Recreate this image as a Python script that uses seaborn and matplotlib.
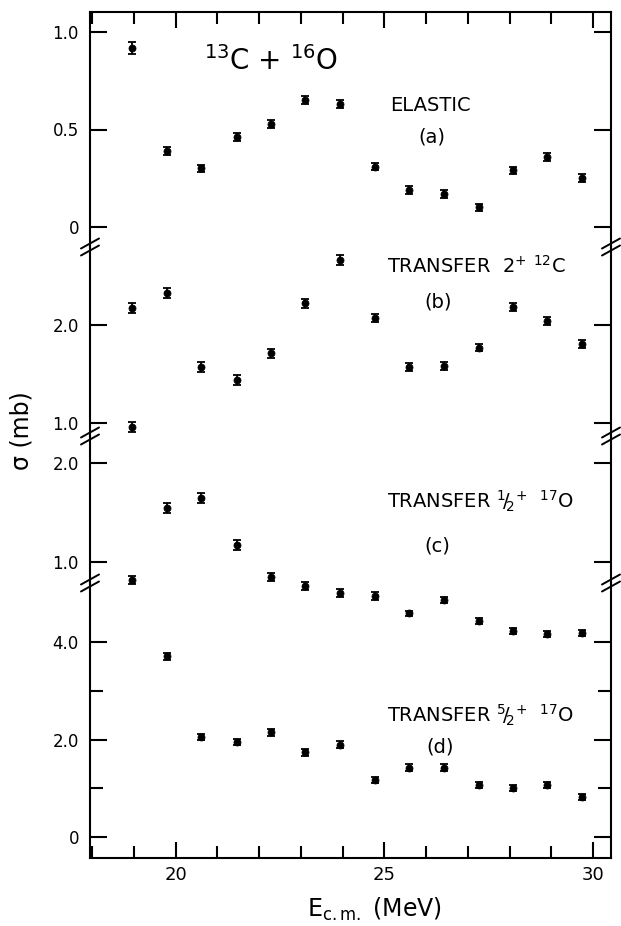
import matplotlib
matplotlib.use("Agg")
import matplotlib.pyplot as plt
import seaborn as sns
import pandas as pd
from matplotlib.ticker import MultipleLocator, FixedLocator
from matplotlib.lines import Line2D

# ---------------- data ----------------
energy = [18.95, 19.80, 20.62, 21.47, 22.28, 23.10, 23.93,
          24.77, 25.60, 26.42, 27.27, 28.08, 28.90, 29.73]

elastic = [0.92, 0.39, 0.30, 0.46, 0.53, 0.65, 0.63,
           0.31, 0.19, 0.17, 0.10, 0.29, 0.36, 0.25]
elastic_err = [0.03, 0.02, 0.02, 0.02, 0.02, 0.02, 0.02,
               0.02, 0.02, 0.02, 0.02, 0.02, 0.02, 0.02]

transfer_2p = [2.17, 2.33, 1.57, 1.44, 1.71, 2.22, 2.66,
               2.07, 1.57, 1.58, 1.77, 2.18, 2.04, 1.81]
transfer_2p_err = [0.05, 0.05, 0.05, 0.05, 0.05, 0.05, 0.05,
                   0.04, 0.04, 0.04, 0.04, 0.04, 0.04, 0.04]

transfer_half = [2.36, 1.55, 1.65, 1.17, 0.85, 0.76, 0.69,
                 0.66, 0.48, 0.62, 0.40, 0.30, 0.27, 0.28]
transfer_half_err = [0.05, 0.05, 0.05, 0.05, 0.04, 0.04, 0.04,
                     0.04, 0.03, 0.03, 0.03, 0.03, 0.03, 0.03]

transfer_5half = [5.27, 3.71, 2.05, 1.95, 2.15, 1.74, 1.89,
                  1.17, 1.42, 1.42, 1.07, 1.01, 1.07, 0.82]
transfer_5half_err = [0.09, 0.07, 0.07, 0.07, 0.07, 0.07, 0.07,
                      0.07, 0.07, 0.07, 0.06, 0.06, 0.06, 0.06]

x_ticks_major = [20, 25, 30]
panel_series = [elastic, transfer_2p, transfer_half, transfer_5half]
panel_errors = [elastic_err, transfer_2p_err, transfer_half_err, transfer_5half_err]
panel_yticks = [[0, 0.5, 1.0], [1.0, 2.0], [1.0, 2.0], [0, 2.0, 4.0]]
panel_yticklabels = [["0", "0.5", "1.0"], ["1.0", "2.0"], ["1.0", "2.0"], ["0", "2.0", "4.0"]]
panel_yminor = [[], [], [], [1.0, 3.0]]

# ---------------- style ----------------
sns.set_style("ticks")
plt.rcParams['font.family'] = ['DejaVu Sans']
plt.rcParams['mathtext.fontset'] = 'custom'
plt.rcParams['mathtext.rm'] = 'DejaVu Sans'
plt.rcParams['mathtext.it'] = 'DejaVu Sans'
plt.rcParams['mathtext.bf'] = 'DejaVu Sans:bold'
for key in ['text.color', 'axes.labelcolor', 'xtick.color', 'ytick.color',
            'axes.edgecolor']:
    plt.rcParams[key] = 'black'

W, H = 621, 926
fig = plt.figure(figsize=(W / 100, H / 100), dpi=100)
fig.patch.set_facecolor('white')

def fx(px):
    return px / W

def fy(py):
    return 1 - py / H

left_px, right_px = 90, 611
bounds = [12, 247, 436, 583, 858]
ylims = [(-0.103, 1.103), (0.867, 2.796), (0.788, 2.273), (-0.43, 5.21)]
xlim = (17.95, 30.43)

lw = 1.5
axes = []
for i in range(4):
    top, bot = bounds[i], bounds[i + 1]
    ax = fig.add_axes([fx(left_px), fy(bot), fx(right_px - left_px), (bot - top) / H])
    ax.patch.set_visible(False)
    df = pd.DataFrame({"E": energy, "sigma": panel_series[i]})
    eb = ax.errorbar(energy, panel_series[i], yerr=panel_errors[i], fmt='none',
                     ecolor='black', elinewidth=1.3, capsize=2.6, capthick=1.3)
    for child in eb.get_children():
        child.set_clip_on(False)
    sns.scatterplot(data=df, x="E", y="sigma", ax=ax, color='black', s=26,
                    edgecolor='black', linewidth=0.5, clip_on=False, legend=False,
                    zorder=3)
    ax.set_xlim(*xlim)
    ax.set_ylim(*ylims[i])
    ax.set_xlabel("")
    ax.set_ylabel("")
    for sp in ax.spines.values():
        sp.set_linewidth(lw)
        sp.set_color('black')
    ax.spines['top'].set_visible(i == 0)
    ax.spines['bottom'].set_visible(i == 3)
    ax.spines['right'].set_visible(True)

    ax.yaxis.set_major_locator(FixedLocator(panel_yticks[i]))
    ax.set_yticklabels(panel_yticklabels[i])
    ax.yaxis.set_minor_locator(FixedLocator(panel_yminor[i]))
    ax.tick_params(axis='y', which='major', direction='in', left=True, right=True,
                   labelleft=True, labelright=False, length=12, width=lw,
                   pad=8, labelsize=12, colors='black')
    ax.tick_params(axis='y', which='minor', direction='in', left=True, right=True,
                   length=9.5, width=lw, colors='black')

    ax.xaxis.set_major_locator(FixedLocator(x_ticks_major))
    ax.xaxis.set_minor_locator(MultipleLocator(1))
    if i == 0:
        ax.tick_params(axis='x', which='both', direction='in', top=True, bottom=False,
                       labeltop=False, labelbottom=False, width=lw, colors='black')
        ax.tick_params(axis='x', which='major', length=11.5)
        ax.tick_params(axis='x', which='minor', length=8.5)
    elif i == 3:
        ax.tick_params(axis='x', which='both', direction='in', top=False, bottom=True,
                       labelbottom=True, width=lw, pad=6, labelsize=13, colors='black')
        ax.tick_params(axis='x', which='major', length=11.5)
        ax.tick_params(axis='x', which='minor', length=8.5)
    else:
        ax.tick_params(axis='x', which='both', top=False, bottom=False,
                       labelbottom=False, labeltop=False)
    axes.append(ax)

# axis-break marks (//) on both spines
for yb in bounds[1:4]:
    for xb in (left_px, right_px):
        for off in (-3.5, 3.5):
            line = Line2D([fx(xb - 9), fx(xb + 9)],
                          [fy(yb + 5 + off), fy(yb - 5 + off)],
                          transform=fig.transFigure, color='black', lw=1.4)
            fig.add_artist(line)

# ---------------- texts ----------------
fig.text(fx(271), fy(70), r"$^{13}$C + $^{16}$O", ha='center', va='baseline', fontsize=20)

fs = 14
fig.text(fx(390), fy(111), "ELASTIC", ha='left', va='baseline', fontsize=fs)
fig.text(fx(432), fy(137), "(a)", ha='center', va='center', fontsize=fs)

fig.text(fx(387), fy(273), r"TRANSFER  2$^{+}$ $^{12}$C", ha='left', va='baseline', fontsize=fs)
fig.text(fx(438), fy(302), "(b)", ha='center', va='center', fontsize=fs)

fig.text(fx(387), fy(509), r"TRANSFER $^{1}\!/\!_{2}{}^{+}$  $^{17}$O", ha='left', va='baseline', fontsize=fs)
fig.text(fx(437), fy(546), "(c)", ha='center', va='center', fontsize=fs)

fig.text(fx(387), fy(722), r"TRANSFER $^{5}\!/\!_{2}{}^{+}$  $^{17}$O", ha='left', va='baseline', fontsize=fs)
fig.text(fx(440), fy(747), "(d)", ha='center', va='center', fontsize=fs)

fig.text(fx(374), fy(917), r"E$_{\mathrm{c.m.}}$ (MeV)", ha='center', va='baseline', fontsize=17)
fig.text(fx(22), fy(431), "σ (mb)", rotation=90, ha='center', va='center', fontsize=17)

fig.savefig("out.png", dpi=100, facecolor='white')
